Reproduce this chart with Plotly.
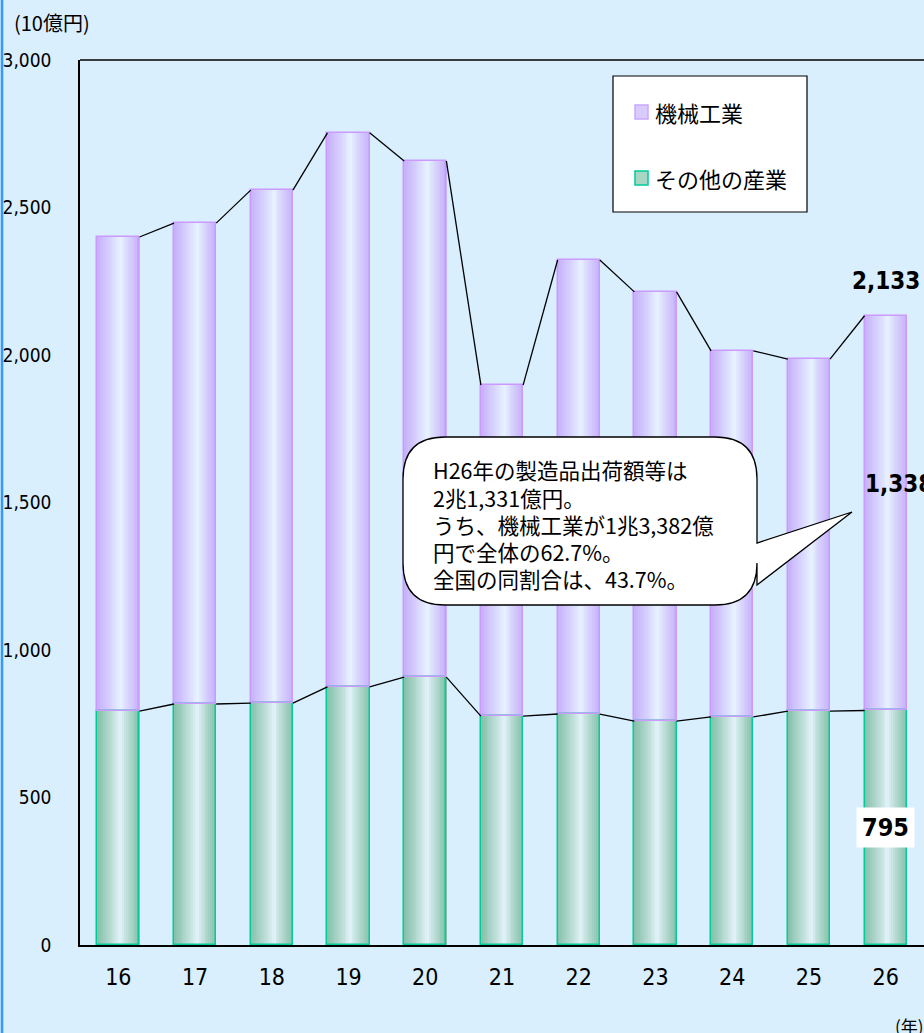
import plotly.graph_objects as go

# ---- data ----
years = ["16", "17", "18", "19", "20", "21", "22", "23", "24", "25", "26"]
other_industry = [793, 817, 820, 875, 908, 776, 783, 759, 773, 793, 795]
machine_industry = [1607, 1630, 1739, 1878, 1750, 1122, 1539, 1455, 1241, 1193, 1338]
total = [o + m for o, m in zip(other_industry, machine_industry)]
series_names = ["機械工業", "その他の産業"]
callout_lines = ["H26年の製造品出荷額等は", "2兆1,331億円。", "うち、機械工業が1兆3,382億",
                 "円で全体の62.7%。", "全国の同割合は、43.7%。"]

# ---- style ----
BG = "#D9EFFE"
NUM_FONT = "DejaVu Sans Condensed, Liberation Sans Narrow, Noto Sans CJK JP, sans-serif"
JP_FONT = "Noto Sans CJK JP, sans-serif"
W = 0.55
N = 22
purple_dark, purple_light = (198, 176, 250), (232, 245, 255)
green_dark, green_light = (132, 192, 168), (229, 244, 251)

W_PX, H_PX = 924, 1033
L, R, T, B = 80, 0, 60, 88


def px_x(px):
    return (px - L) / (W_PX - L - R)


def px_y(py):
    return (H_PX - B - py) / (H_PX - T - B)


def mix(c1, c2, s):
    return "rgb(%d,%d,%d)" % tuple(round(a + (b - a) * s) for a, b in zip(c1, c2))


idx = list(range(len(years)))
fig = go.Figure()

# gradient strips
for k in range(N):
    t = (k + 0.5) / N
    s = (0.55 - t) / 0.55 if t < 0.55 else (t - 0.55) / 0.45
    s = s ** 0.85
    off = -W / 2 + (k + 0.5) * W / N
    xs = [i + off for i in idx]
    fig.add_bar(x=xs, y=other_industry, base=[0] * len(idx), width=W / N * 1.15,
                marker=dict(color=mix(green_light, green_dark, s), line=dict(width=0)),
                showlegend=False, hoverinfo="skip", opacity=1)
    fig.add_bar(x=xs, y=machine_industry, base=other_industry, width=W / N * 1.15,
                marker=dict(color=mix(purple_light, purple_dark, s), line=dict(width=0)),
                showlegend=False, hoverinfo="skip", opacity=1)

# outlines
fig.add_bar(x=idx, y=other_industry, base=[0] * len(idx), width=W,
            marker=dict(color="rgba(0,0,0,0)", line=dict(color="#00CC99", width=1.5)),
            showlegend=False, hoverinfo="skip", opacity=1)
fig.add_bar(x=idx, y=machine_industry, base=other_industry, width=W,
            marker=dict(color="rgba(0,0,0,0)", line=dict(color="#CC99FF", width=1.5)),
            showlegend=False, hoverinfo="skip", opacity=1)

# connector lines between bar tops
for vals in (total, other_industry):
    lx, ly = [], []
    for i in range(len(idx) - 1):
        lx += [idx[i] + W / 2, idx[i + 1] - W / 2, None]
        ly += [vals[i], vals[i + 1], None]
    fig.add_scatter(x=lx, y=ly, mode="lines", line=dict(color="black", width=1.3),
                    showlegend=False, hoverinfo="skip")

shapes = []
annotations = []

# top border of plot area
shapes.append(dict(type="line", xref="paper", yref="paper", x0=0, x1=1, y0=1, y1=1,
                   line=dict(color="black", width=1.5)))
# left blue border of chart
shapes.append(dict(type="line", xref="paper", yref="paper", x0=px_x(2), x1=px_x(2),
                   y0=px_y(0), y1=px_y(H_PX), line=dict(color="#3399FF", width=2.5)))

# legend box
shapes.append(dict(type="rect", xref="paper", yref="paper", x0=px_x(613), x1=px_x(807),
                   y0=px_y(212), y1=px_y(76), fillcolor="white",
                   line=dict(color="black", width=1.2), layer="above"))
sw = [("#D9CCFB", "#C9A8FF", 112), ("#A8D6C4", "#00CC99", 178)]
for (fc, lc, cy), name in zip(sw, series_names):
    shapes.append(dict(type="rect", xref="paper", yref="paper", x0=px_x(635), x1=px_x(648),
                       y0=px_y(cy + 7), y1=px_y(cy - 7), fillcolor=fc,
                       line=dict(color=lc, width=1.5), layer="above"))
    annotations.append(dict(xref="paper", yref="paper", x=px_x(653), y=px_y(cy),
                            xanchor="left", yanchor="middle", showarrow=False, text=name,
                            font=dict(family=JP_FONT, size=22, color="black")))

# callout bubble
l_, r_, t_, b_, rad = 403, 757, 437, 605, 42
tip = (852, 512)
ua, la = 543, 585
pts = [
    f"M {px_x(l_ + rad)},{px_y(t_)}",
    f"L {px_x(r_ - rad)},{px_y(t_)}",
    f"Q {px_x(r_)},{px_y(t_)} {px_x(r_)},{px_y(t_ + rad)}",
    f"L {px_x(r_)},{px_y(ua)}",
    f"L {px_x(tip[0])},{px_y(tip[1])}",
    f"L {px_x(r_)},{px_y(la)}",
    f"L {px_x(r_)},{px_y(b_ - rad)}",
    f"Q {px_x(r_)},{px_y(b_)} {px_x(r_ - rad)},{px_y(b_)}",
    f"L {px_x(l_ + rad)},{px_y(b_)}",
    f"Q {px_x(l_)},{px_y(b_)} {px_x(l_)},{px_y(b_ - rad)}",
    f"L {px_x(l_)},{px_y(t_ + rad)}",
    f"Q {px_x(l_)},{px_y(t_)} {px_x(l_ + rad)},{px_y(t_)}",
    "Z",
]
shapes.append(dict(type="path", xref="paper", yref="paper", path=" ".join(pts),
                   fillcolor="white", line=dict(color="black", width=1.3), layer="above"))
for i, line in enumerate(callout_lines):
    annotations.append(dict(xref="paper", yref="paper", x=px_x(431), y=px_y(470 + 27.2 * i),
                            xanchor="left", yanchor="middle", align="left", showarrow=False,
                            text=line, font=dict(family=JP_FONT, size=21.5, color="black")))

# value labels for the last year
last = len(idx) - 1
annotations.append(dict(x=idx[last], y=total[last], yshift=35, showarrow=False,
                        text=f"<b>{total[last]:,}</b>",
                        font=dict(family=NUM_FONT, size=24, color="black")))
annotations.append(dict(x=idx[last] + 0.17, y=other_industry[last] + machine_industry[last] * 0.575,
                        showarrow=False, text=f"<b>{machine_industry[last]:,}</b>",
                        font=dict(family=NUM_FONT, size=24, color="black")))
annotations.append(dict(x=idx[last], y=other_industry[last] * 0.5, showarrow=False,
                        text=f"<b>{other_industry[last]:,}</b>", bgcolor="white",
                        borderpad=5,
                        font=dict(family=NUM_FONT, size=25, color="black")))

# axis titles
annotations.append(dict(xref="paper", yref="paper", x=px_x(12), y=px_y(22), xanchor="left",
                        yanchor="middle", showarrow=False, text="(10億円)",
                        font=dict(family=JP_FONT, size=20, color="black")))
annotations.append(dict(xref="paper", yref="paper", x=px_x(893), y=px_y(1025), xanchor="left",
                        yanchor="middle", showarrow=False, text="(年)",
                        font=dict(family=JP_FONT, size=17, color="black")))

fig.update_layout(
    width=W_PX, height=H_PX,
    margin=dict(l=L, r=R, t=T, b=B, pad=0),
    paper_bgcolor=BG, plot_bgcolor=BG,
    barmode="overlay", bargap=0,
    showlegend=False,
    shapes=shapes, annotations=annotations,
    xaxis=dict(range=[-0.5, len(idx) - 0.5], tickmode="array", tickvals=idx, ticktext=years,
               showline=True, linecolor="black", linewidth=2, ticks="", showgrid=False,
               zeroline=False, ticklabelstandoff=10,
               tickfont=dict(family=NUM_FONT, size=23, color="black")),
    yaxis=dict(range=[0, 3000], dtick=500, tickformat=",", showline=True, linecolor="black",
               linewidth=1.5, ticks="", showgrid=False, zeroline=False, ticklabelstandoff=23,
               tickfont=dict(family=NUM_FONT, size=19, color="black")),
)

fig.write_html("out.html", config={"displayModeBar": False},
               post_script="document.body.style.margin='0px';")
